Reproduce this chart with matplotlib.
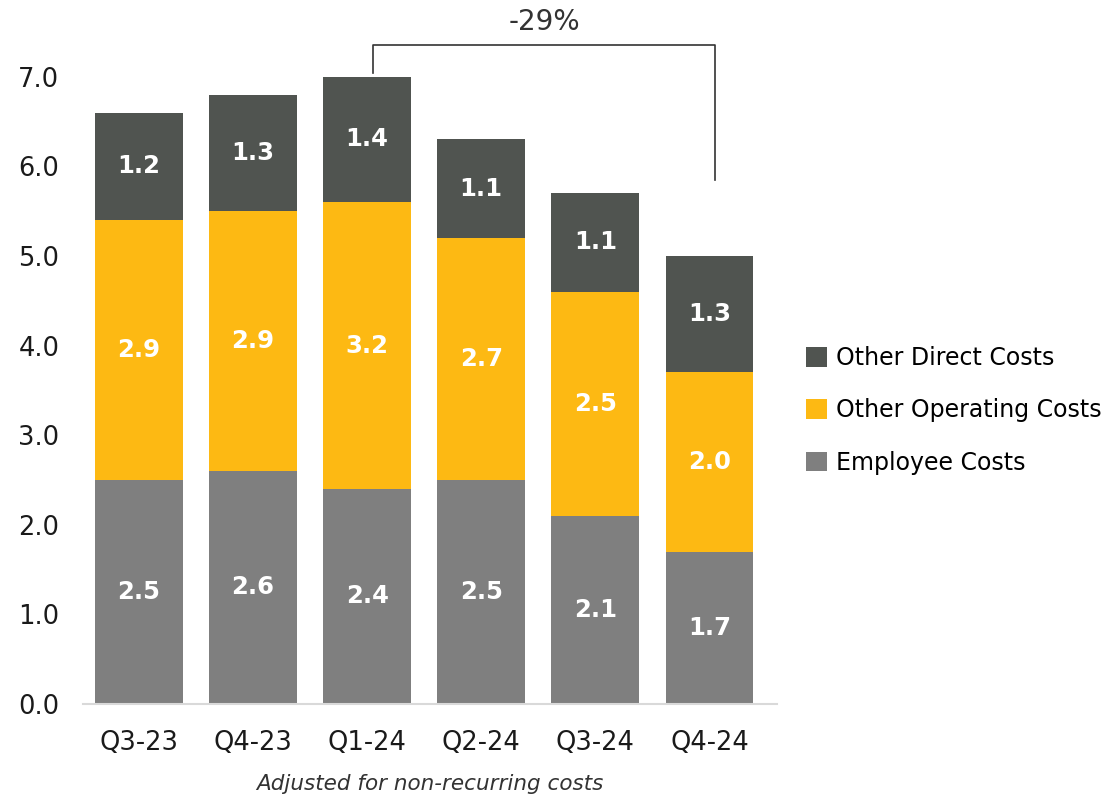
import matplotlib.pyplot as plt
import numpy as np

quarters = ["Q3-23", "Q4-23", "Q1-24", "Q2-24", "Q3-24", "Q4-24"]
employee_costs = [2.5, 2.6, 2.4, 2.5, 2.1, 1.7]
other_operating = [2.9, 2.9, 3.2, 2.7, 2.5, 2.0]
other_direct = [1.2, 1.3, 1.4, 1.1, 1.1, 1.3]
change_label = "-29%"

plt.rcParams['font.family'] = ['DejaVu Sans']

fig = plt.figure(figsize=(11.05, 7.95), dpi=100)
ax = fig.add_axes([0.075, 0.1145, 0.628, 0.789])

x = np.arange(len(quarters))
w = 0.77
series = [
    (employee_costs, "Employee Costs", "#7f7f7f"),
    (other_operating, "Other Operating Costs", "#fdb913"),
    (other_direct, "Other Direct Costs", "#505450"),
]

bottom = np.zeros(len(quarters))
handles = []
for vals, name, col in series:
    vals = np.array(vals)
    bars = ax.bar(x, vals, w, bottom=bottom, color=col, label=name, linewidth=0)
    handles.append(bars)
    for xi, b, v in zip(x, bottom, vals):
        ax.text(xi, b + v / 2, f"{v:.1f}", ha='center', va='center',
                color='white', fontsize=17.5, fontweight='bold')
    bottom += vals

ax.set_xlim(-0.49, 5.59)
ax.set_ylim(0, 7.0)
ax.set_yticks(np.arange(0, 8, 1))
ax.set_yticklabels([f"{t:.1f}" for t in range(8)])
ax.set_xticks(x)
ax.set_xticklabels(quarters)
ax.tick_params(axis='both', length=0, labelsize=18.5, colors='#1a1a1a')
ax.tick_params(axis='y', pad=17)
ax.tick_params(axis='x', pad=19)
for s in ['top', 'right', 'left']:
    ax.spines[s].set_visible(False)
ax.spines['bottom'].set_color('#d9d9d9')
ax.spines['bottom'].set_linewidth(1.5)

ax.set_xlabel("Adjusted for non-recurring costs", fontsize=15.5, style='italic',
              color='#333333', labelpad=13)

# bracket showing the drop from the peak quarter to the latest
bx = [2.05, 2.05, 5.05, 5.05]
by = [bottom[2] + 0.04, 7.35, 7.35, 5.85]
ax.plot(bx, by, color='#333333', lw=1.2, clip_on=False)
ax.text(3.55, 7.61, change_label, ha='center', va='center', fontsize=20, color='#333333')

fig.legend(handles[::-1], [h.get_label() for h in handles[::-1]],
           loc='center left', bbox_to_anchor=(0.71, 0.484), frameon=False,
           fontsize=17, handlelength=0.9, handleheight=0.9, handletextpad=0.4,
           labelspacing=1.2)

fig.savefig("out.png", dpi=100)
